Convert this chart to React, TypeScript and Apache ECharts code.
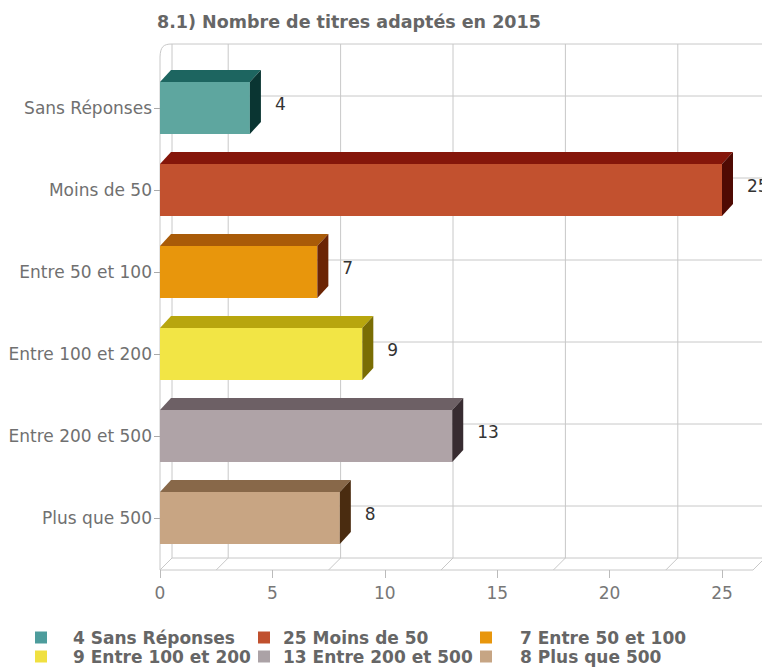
import React, { useEffect, useRef } from "react";
import * as echarts from "echarts";

// ---- data ----
const chartTitle = "8.1) Nombre de titres adaptés en 2015";
const categories = [
  "Sans Réponses",
  "Moins de 50",
  "Entre 50 et 100",
  "Entre 100 et 200",
  "Entre 200 et 500",
  "Plus que 500",
];
const values = [4, 25, 7, 9, 13, 8];
const axisMin = 0;
const axisMax = 25;
const axisInterval = 5;
const wallLineValues = [2.5, 7.5, 12.5, 17.5, 22.5];
const legendColumns = [
  [0, 3],
  [1, 4],
  [2, 5],
];

// ---- styles ----
const frontColors = ["#5ea69f", "#c2512f", "#e8960c", "#f2e545", "#afa3a7", "#c8a583"];
const topColors = ["#1d6560", "#85160a", "#a95b08", "#b8a60e", "#6d6065", "#886849"];
const sideColors = ["#0a3532", "#4f0a03", "#6b2404", "#7a6d04", "#382c31", "#4a2c10"];
const legendColors = ["#4d9c9c", "#c0502e", "#e8960c", "#f0e040", "#aba2a6", "#c6a584"];

const FONT = "DejaVu Sans";
const W = 762;
const H = 668;
const GRID_LEFT = 160;
const GRID_TOP = 67;
const GRID_W = 562;
const GRID_H = 492;
const WALL_TOP = 44;
const FLOOR_Y = 570;
const DEPTH = 12;
const BAR_DX = 11;
const BAR_DY = 12;
const GRID_LINE = "#c8c8c8";
const legendLeft = [35, 258, 480];
const legendSpacer = [21, 8, 23];

function legendName(i: number) {
  return `${values[i]} ${categories[i]}`;
}

export default function App() {
  const ref = useRef<HTMLDivElement>(null);

  useEffect(() => {
    if (!ref.current) return;
    const chart = echarts.init(ref.current, undefined, { renderer: "svg" });

    const barSeries = categories.map((cat, i) => ({
      type: "custom",
      name: legendName(i),
      coordinateSystem: "cartesian2d",
      xAxisIndex: 0,
      yAxisIndex: 0,
      z: 5,
      itemStyle: { color: legendColors[i] },
      encode: { x: 0, y: 1 },
      data: [[values[i], i]],
      renderItem: (params: any, api: any) => {
        const v = api.value(0);
        const c = api.value(1);
        const start = api.coord([0, c]);
        const end = api.coord([v, c]);
        const band = api.size([0, 1])[1];
        const h = band * 0.634;
        const y0 = start[1] - h / 2;
        const y1 = start[1] + h / 2;
        const x0 = start[0];
        const x1 = end[0];
        return {
          type: "group",
          children: [
            {
              type: "rect",
              shape: { x: x0, y: y0, width: x1 - x0, height: h },
              style: { fill: frontColors[i] },
            },
            {
              type: "polygon",
              shape: {
                points: [
                  [x0, y0],
                  [x0 + BAR_DX, y0 - BAR_DY],
                  [x1 + BAR_DX, y0 - BAR_DY],
                  [x1, y0],
                ],
              },
              style: { fill: topColors[i] },
            },
            {
              type: "polygon",
              shape: {
                points: [
                  [x1, y0],
                  [x1 + BAR_DX, y0 - BAR_DY],
                  [x1 + BAR_DX, y1 - BAR_DY],
                  [x1, y1],
                ],
              },
              style: { fill: sideColors[i] },
            },
            {
              type: "text",
              style: {
                text: String(v),
                x: x1 + BAR_DX + 14,
                y: start[1] - 4,
                align: "left",
                verticalAlign: "middle",
                fill: "#333",
                fontSize: 17,
                fontFamily: FONT,
              },
            },
          ],
        };
      },
    }));

    const wallVertical = {
      type: "custom",
      name: "wallV",
      coordinateSystem: "cartesian2d",
      xAxisIndex: 0,
      yAxisIndex: 0,
      z: 1,
      silent: true,
      encode: { x: 0, y: 1 },
      data: wallLineValues.map((v) => [v, 0]),
      renderItem: (params: any, api: any) => {
        const x = api.coord([api.value(0), 0])[0];
        const bx = x + DEPTH;
        const ls = { stroke: GRID_LINE, lineWidth: 1 };
        return {
          type: "group",
          children: [
            { type: "line", shape: { x1: bx, y1: WALL_TOP, x2: bx, y2: FLOOR_Y - DEPTH }, style: ls },
            { type: "line", shape: { x1: x, y1: FLOOR_Y, x2: bx, y2: FLOOR_Y - DEPTH }, style: ls },
          ],
        };
      },
    };

    const wallHorizontal = {
      type: "custom",
      name: "wallH",
      coordinateSystem: "cartesian2d",
      xAxisIndex: 0,
      yAxisIndex: 0,
      z: 1,
      silent: true,
      encode: { x: 0, y: 1 },
      data: categories.map((_, i) => [0, i]),
      renderItem: (params: any, api: any) => {
        const p = api.coord([0, api.value(1)]);
        const y = p[1] - DEPTH;
        return {
          type: "line",
          shape: { x1: p[0] + DEPTH, y1: y, x2: W, y2: y },
          style: { stroke: GRID_LINE, lineWidth: 1 },
        };
      },
    };

    const frameStyle = { stroke: GRID_LINE, lineWidth: 1 };
    const graphic = [
      { type: "line", z: 0, shape: { x1: GRID_LEFT + DEPTH, y1: WALL_TOP, x2: GRID_LEFT + DEPTH, y2: FLOOR_Y - DEPTH }, style: frameStyle },
      { type: "line", z: 0, shape: { x1: GRID_LEFT + DEPTH, y1: WALL_TOP, x2: W, y2: WALL_TOP }, style: frameStyle },
      { type: "line", z: 0, shape: { x1: GRID_LEFT + DEPTH, y1: FLOOR_Y - DEPTH, x2: W, y2: FLOOR_Y - DEPTH }, style: frameStyle },
      { type: "line", z: 0, shape: { x1: GRID_LEFT, y1: FLOOR_Y, x2: 753, y2: FLOOR_Y }, style: frameStyle },
      { type: "line", z: 0, shape: { x1: GRID_LEFT, y1: FLOOR_Y, x2: GRID_LEFT + DEPTH, y2: FLOOR_Y - DEPTH }, style: frameStyle },
      { type: "line", z: 0, shape: { x1: 753, y1: FLOOR_Y, x2: 753 + DEPTH, y2: FLOOR_Y - DEPTH }, style: frameStyle },
      { type: "line", z: 0, shape: { x1: GRID_LEFT, y1: 57, x2: GRID_LEFT, y2: FLOOR_Y }, style: frameStyle },
      {
        type: "bezierCurve",
        z: 0,
        shape: { x1: GRID_LEFT, y1: 57, cpx1: GRID_LEFT + 0.5, cpy1: 47, cpx2: GRID_LEFT + 3, cpy2: WALL_TOP, x2: GRID_LEFT + DEPTH, y2: WALL_TOP },
        style: { ...frameStyle, fill: null },
      },
    ];

    const legends = legendColumns.map((col, k) => ({
      orient: "vertical",
      left: legendLeft[k],
      top: 629,
      padding: 0,
      itemGap: 2,
      itemWidth: 12,
      itemHeight: 12,
      icon: "rect",
      selectedMode: false,
      data: col.map((i) => legendName(i)),
      formatter: (name: string) => `{g|}{t|${name}}`,
      textStyle: {
        rich: {
          g: { width: legendSpacer[k] },
          t: { fontSize: 17, fontWeight: "bold", color: "#666", fontFamily: FONT, lineHeight: 18 },
        },
      },
    }));

    chart.setOption({
      animation: false,
      backgroundColor: "#ffffff",
      title: {
        text: chartTitle,
        left: 157,
        top: 13,
        padding: 0,
        textStyle: { fontSize: 17.5, fontWeight: "bold", color: "#666", fontFamily: FONT },
      },
      legend: legends,
      graphic,
      grid: { left: GRID_LEFT, top: GRID_TOP, width: GRID_W, height: GRID_H, containLabel: false },
      xAxis: {
        type: "value",
        min: axisMin,
        max: axisMax,
        interval: axisInterval,
        offset: FLOOR_Y - (GRID_TOP + GRID_H),
        axisLine: { show: false },
        axisTick: { show: true, length: 8, lineStyle: { color: "#bbb" } },
        axisLabel: { margin: 14, color: "#777", fontSize: 17, fontFamily: FONT },
        splitLine: { show: false },
      },
      yAxis: {
        type: "category",
        data: categories,
        inverse: true,
        axisLine: { show: false },
        axisTick: { show: true, alignWithLabel: true, length: 6, lineStyle: { color: "#aaa" } },
        axisLabel: { margin: 8, color: "#707070", fontSize: 17, fontFamily: FONT },
        splitLine: { show: false },
      },
      series: [wallVertical, wallHorizontal, ...barSeries],
    });

    return () => chart.dispose();
  }, []);

  return (
    <div
      ref={ref}
      style={{ position: "fixed", left: 0, top: 0, width: W, height: H, background: "#fff" }}
    />
  );
}
